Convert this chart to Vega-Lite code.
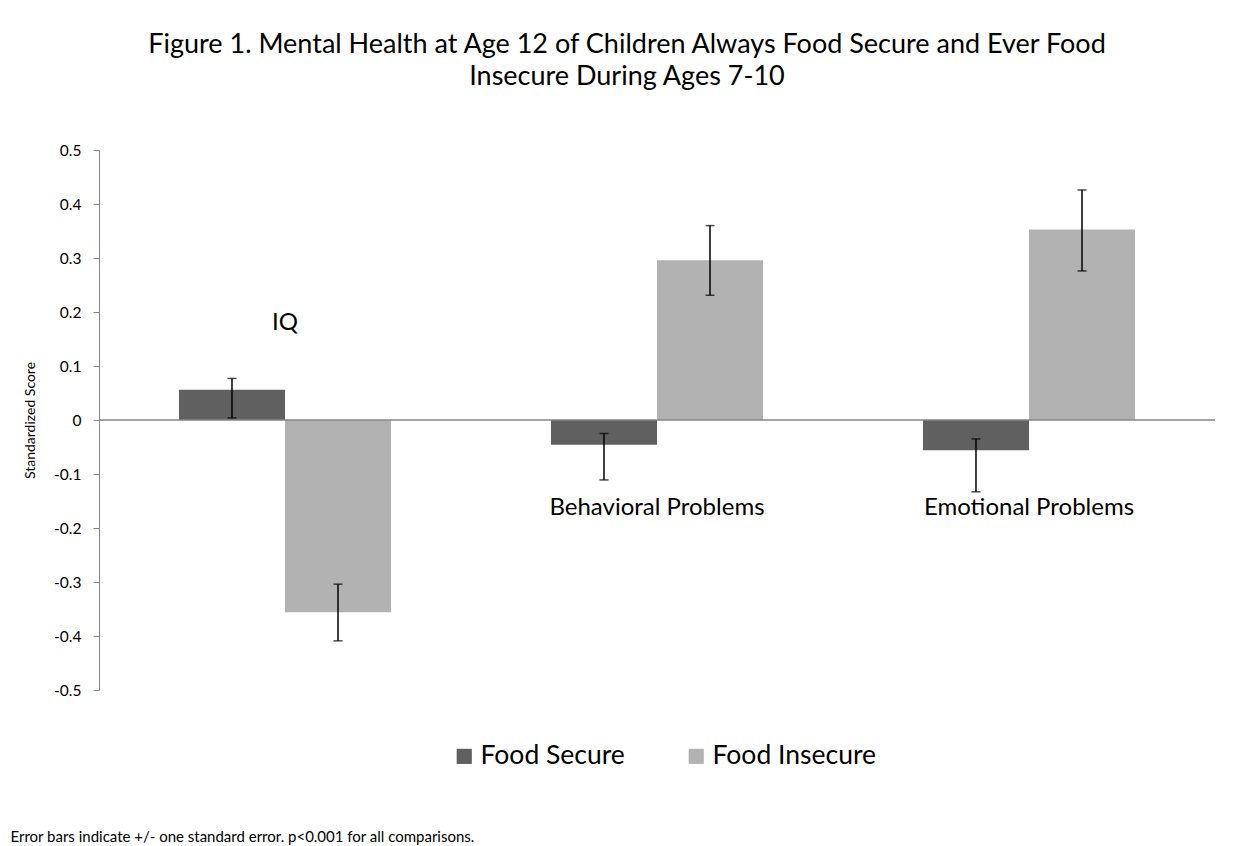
{
  "$schema": "https://vega.github.io/schema/vega-lite/v6.json",
  "width": 1116,
  "height": 540,
  "autosize": {"type": "none"},
  "padding": {"left": 99, "top": 150, "right": 36, "bottom": 156},
  "background": "white",
  "config": {
    "font": "Lato",
    "view": {"stroke": null},
    "axis": {"labelFont": "Lato", "titleFont": "Lato"}
  },
  "title": {
    "text": ["Figure 1. Mental Health at Age 12 of Children Always Food Secure and Ever Food", "Insecure During Ages 7-10"],
    "fontSize": 27,
    "fontWeight": "normal",
    "color": "#000000",
    "font": "Lato",
    "anchor": "middle",
    "dx": -30,
    "offset": 52,
    "lineHeight": 32
  },
  "datasets": {
    "bars": [
      {"category": "IQ", "group": "Food Secure", "value": 0.056, "lo": 0.004, "hi": 0.077},
      {"category": "IQ", "group": "Food Insecure", "value": -0.356, "lo": -0.409, "hi": -0.304},
      {"category": "Behavioral Problems", "group": "Food Secure", "value": -0.046, "lo": -0.111, "hi": -0.025},
      {"category": "Behavioral Problems", "group": "Food Insecure", "value": 0.296, "lo": 0.231, "hi": 0.360},
      {"category": "Emotional Problems", "group": "Food Secure", "value": -0.056, "lo": -0.133, "hi": -0.035},
      {"category": "Emotional Problems", "group": "Food Insecure", "value": 0.353, "lo": 0.276, "hi": 0.426}
    ],
    "labels": [
      {"category": "IQ", "labelValue": 0.18},
      {"category": "Behavioral Problems", "labelValue": -0.163},
      {"category": "Emotional Problems", "labelValue": -0.163}
    ],
    "zero": [{"z": 0}]
  },
  "layer": [
    {
      "data": {"name": "bars"},
      "mark": {"type": "bar"},
      "encoding": {
        "x": {
          "field": "category", "type": "nominal", "sort": ["IQ", "Behavioral Problems", "Emotional Problems"],
          "scale": {"paddingInner": 0.43, "paddingOuter": 0.215},
          "axis": {
            "domain": false, "ticks": false, "labels": false,
            "title": "Error bars indicate +/- one standard error. p<0.001 for all comparisons.",
            "titleFontSize": 15, "titleFontWeight": "normal", "titleColor": "#000000", "titleLimit": 1000,
            "titleX": -89, "titleY": 146, "titleAlign": "left", "titleBaseline": "middle", "titleAnchor": "start"
          }
        },
        "xOffset": {"field": "group", "type": "nominal", "sort": ["Food Secure", "Food Insecure"], "scale": {"paddingInner": 0, "paddingOuter": 0}},
        "y": {
          "field": "value", "type": "quantitative",
          "scale": {"domain": [-0.5, 0.5], "nice": false, "zero": false},
          "axis": {
            "values": [-0.5, -0.4, -0.3, -0.2, -0.1, 0, 0.1, 0.2, 0.3, 0.4, 0.5],
            "labelExpr": "toString(round(datum.value*10)/10)",
            "grid": false, "domainColor": "#868686", "tickColor": "#868686", "tickSize": 6,
            "labelFontSize": 15.5, "labelColor": "#000000", "labelPadding": 12,
            "title": "Standardized Score", "titleFontSize": 14, "titleFontWeight": "normal", "titleColor": "#000000", "titlePadding": 16
          }
        },
        "color": {
          "field": "group", "type": "nominal",
          "scale": {"domain": ["Food Secure", "Food Insecure"], "range": ["#606060", "#b2b2b2"]},
          "legend": {
            "title": null, "orient": "none", "direction": "horizontal",
            "legendX": 352, "legendY": 593,
            "symbolType": "square", "symbolSize": 230, "symbolStrokeWidth": 0,
            "labelFontSize": 26.5, "labelColor": "#000000", "labelFont": "Lato", "labelLimit": 400,
            "columnPadding": 58, "labelOffset": 3
          }
        }
      }
    },
    {
      "data": {"name": "zero"},
      "mark": {"type": "rule", "color": "#868686", "strokeWidth": 1.5},
      "encoding": {"y": {"field": "z", "type": "quantitative"}}
    },
    {
      "data": {"name": "bars"},
      "mark": {"type": "rule", "color": "#000000", "strokeWidth": 1.5},
      "encoding": {
        "x": {"field": "category", "type": "nominal", "sort": ["IQ", "Behavioral Problems", "Emotional Problems"]},
        "xOffset": {"field": "group", "type": "nominal", "sort": ["Food Secure", "Food Insecure"]},
        "y": {"field": "lo", "type": "quantitative"},
        "y2": {"field": "hi"}
      }
    },
    {
      "data": {"name": "bars"},
      "mark": {"type": "tick", "color": "#000000", "thickness": 1.5, "size": 9},
      "encoding": {
        "x": {"field": "category", "type": "nominal", "sort": ["IQ", "Behavioral Problems", "Emotional Problems"]},
        "xOffset": {"field": "group", "type": "nominal", "sort": ["Food Secure", "Food Insecure"]},
        "y": {"field": "lo", "type": "quantitative"}
      }
    },
    {
      "data": {"name": "bars"},
      "mark": {"type": "tick", "color": "#000000", "thickness": 1.5, "size": 9},
      "encoding": {
        "x": {"field": "category", "type": "nominal", "sort": ["IQ", "Behavioral Problems", "Emotional Problems"]},
        "xOffset": {"field": "group", "type": "nominal", "sort": ["Food Secure", "Food Insecure"]},
        "y": {"field": "hi", "type": "quantitative"}
      }
    },
    {
      "data": {"name": "labels"},
      "mark": {"type": "text", "fontSize": 24, "color": "#000000", "font": "Lato", "baseline": "middle", "align": "center"},
      "encoding": {
        "x": {"field": "category", "type": "nominal", "sort": ["IQ", "Behavioral Problems", "Emotional Problems"]},
        "y": {"field": "labelValue", "type": "quantitative"},
        "text": {"field": "category"}
      }
    }
  ]
}
